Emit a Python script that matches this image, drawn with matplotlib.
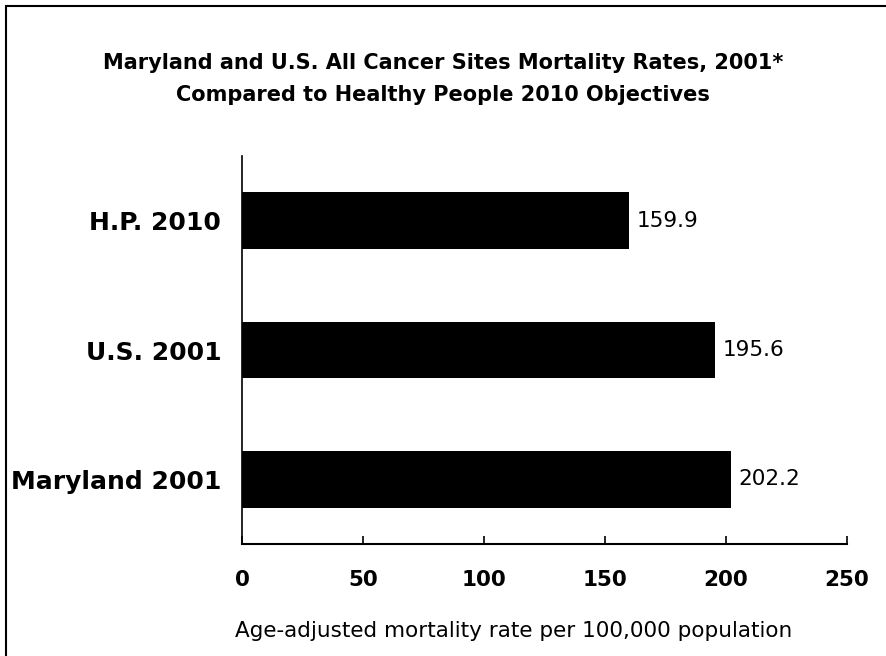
import matplotlib
matplotlib.use("Agg")
import matplotlib.pyplot as plt
from matplotlib.patches import Rectangle

# Chart data
categories = ["Maryland 2001", "U.S. 2001", "H.P. 2010"]
rates = [202.2, 195.6, 159.9]
x_ticks = [0, 50, 100, 150, 200, 250]

plt.rcParams.update({
    'font.family': 'DejaVu Sans',
})

W, H = 886, 656
fig = plt.figure(figsize=(W / 100, H / 100), dpi=100)

# Outer frame (only top/left visible in the original crop)
fig.patches.append(Rectangle((6 / W, -0.1), 1.2, 1 - 6 / H + 0.1, transform=fig.transFigure,
                             fill=False, edgecolor='black', linewidth=1.5))

ax = fig.add_axes((242 / W, 1 - 544 / H, 605 / W, (544 - 156) / H))
y = list(range(len(categories)))
bars = ax.barh(y, rates, height=0.44, color='black')

for b, v in zip(bars, rates):
    ax.text(b.get_width() + 3, b.get_y() + b.get_height() / 2, f"{v:.1f}",
            va='center', ha='left', fontsize=15.5)

ax.set_xlim(0, 250)
ax.set_ylim(-0.5, 2.5)
ax.set_xticks(x_ticks)
ax.set_yticks(y)
ax.set_yticklabels(categories, fontsize=18, fontweight='bold')
for lbl in ax.get_xticklabels():
    lbl.set_fontweight('bold')
    lbl.set_fontsize(15.5)
ax.tick_params(axis='x', direction='in', length=6, width=1.2, pad=19)
ax.tick_params(axis='y', length=0, pad=15)
ax.spines['top'].set_visible(False)
ax.spines['right'].set_visible(False)
ax.spines['left'].set_linewidth(1.2)
ax.spines['bottom'].set_linewidth(1.5)

fig.text(0.5, 1 - 63 / H, "Maryland and U.S. All Cancer Sites Mortality Rates, 2001*",
         ha='center', va='center', fontsize=15, fontweight='bold')
fig.text(0.5, 1 - 95 / H, "Compared to Healthy People 2010 Objectives",
         ha='center', va='center', fontsize=15, fontweight='bold')
fig.text(514 / W, 1 - 631 / H, "Age-adjusted mortality rate per 100,000 population",
         ha='center', va='center', fontsize=15.5)

fig.savefig("out.png", dpi=100)
